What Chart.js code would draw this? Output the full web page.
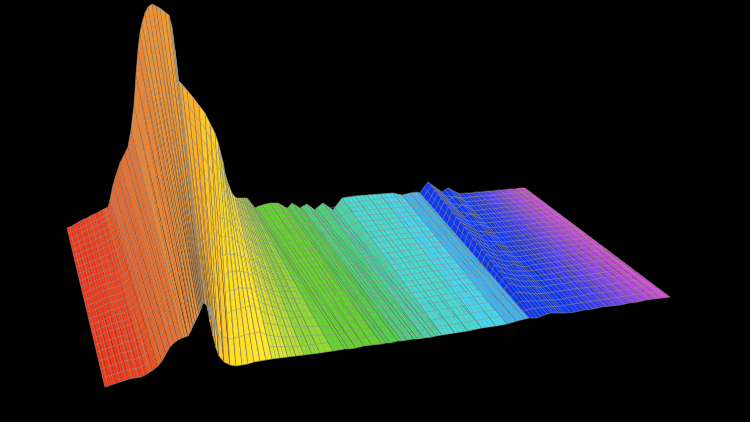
<!DOCTYPE html>
<html><head><meta charset="utf-8">
<style>html,body{margin:0;padding:0;background:#000;width:750px;height:422px;overflow:hidden}canvas{display:block;background:#000}</style>
<script src="https://cdn.jsdelivr.net/npm/chart.js@4"></script>
</head><body><canvas id="c" width="750" height="422"></canvas>
<script>
const backX=[67,72,77,82,87,92,97,102,108,110,113,117,120,125,128,131,134,136,138,140,142,145,148,152,156,160,165,169,172,175,178,182,187,193,199,205,210,215,218,220,223,225,228,232,235,237,239,241,243,245,247,251,255,256.5,262,270,278,287,288.5,292,300,301.5,307,315,316.5,323,333,334.5,342,355,367,380,393,402,410,417,420,424,428,435,442,448,454,460,465.5,471,476.5,482,487.5,493,498.5,504,509.5,515,520,525];
const frontX=[105,111,117,123,129,135,141,147,153,158,162,166,170,174,178,182,185,188,191,193,195,197,199,200,201,202,202,203,203,204,205,207,210,213,216,219,224,230,236,242,248,254,260,266,272,280,288,296,304,312,320,333,345,349,356,364,372,382,386,390,398,402,407,414,418,424,432,436,442,455,468,482,496,507,517,525,529,533,537,544,551,556,561,566,575,584,593,602,611,620,629,638,646,654,662,670];
const surfaceY=[
[228,239,250,261,274,287,300,312,325,338,352,369,387],[226,237,248,259,272,285,298,310,323,336,350,367,385],[223,234,245,257,269,282,295,308,321,333,348,365,383],[220,231,243,254,267,280,292,305,318,331,346,363,381],[218,229,241,252,265,278,290,303,316,329,344,361,379],[215,226,238,249,262,275,288,301,314,327,342,360,378],[213,224,236,247,261,274,287,300,313,326,341,359,377],[210,221,233,244,258,271,284,297,310,323,338,356,374],[207,218,230,241,254,267,280,293,306,319,334,352,370],[200,212,223,235,248,261,275,288,301,315,329,348,366],
[185,197,210,222,236,250,264,278,292,306,322,342,361],[172,185,197,210,225,239,254,268,283,298,314,334,354],[163,176,189,202,216,231,246,261,275,290,306,327,347],[153,166,180,193,208,223,239,254,269,284,301,322,343],[147,161,174,188,203,218,234,249,265,280,298,319,340],[130,145,159,174,190,207,224,240,257,274,292,315,338],[105,121,137,154,172,191,209,228,247,265,286,311,337],[75,93,112,130,151,172,192,213,234,255,279,307,336],[50,70,89,109,131,154,176,199,221,244,269,300,331],[33,54,74,95,118,141,165,188,212,235,262,294,326],
[23,44,65,86,110,134,158,181,205,229,256,289,322],[13,34,56,77,101,126,150,175,199,223,251,284,318],[7,28,50,71,96,121,145,170,194,219,246,280,314],[4,25,47,68,93,118,142,167,191,216,243,277,311],[6,27,48,70,94,118,142,167,191,215,242,276,309],[8,29,50,71,95,119,143,166,190,214,241,274,307],[12,33,53,74,97,120,144,167,191,214,241,273,305],[15,35,55,76,99,122,145,168,191,214,240,272,304],[27,46,66,85,107,129,151,173,195,217,242,273,303],[50,68,85,103,123,144,164,184,204,225,247,275,303],
[80,96,111,127,145,163,181,199,217,235,255,279,304],[84,100,115,131,148,166,184,202,219,237,257,282,306],[90,106,122,139,157,176,194,213,232,250,271,296,322],[97,114,130,147,166,185,205,224,243,262,283,310,336],[105,122,139,156,175,195,214,234,253,273,295,321,348],[113,130,147,164,183,203,222,242,261,281,303,329,356],[123,140,156,173,192,211,231,250,269,288,309,336,362],[133,149,165,182,200,219,237,256,275,293,314,339,365],[142,156,170,184,200,218,236,254,272,290,311,338,366],[150,162,175,188,203,220,237,255,272,290,310,337,365],
[162,172,183,194,208,222,238,254,271,288,308,335,364],[173,181,190,200,212,226,240,255,271,288,307,334,362],[183,189,196,205,216,228,242,256,272,288,306,333,361],[193,197,203,211,221,232,245,258,273,288,306,332,360],[197,203,210,218,228,240,252,265,279,294,311,335,359],[198,206,214,223,234,246,258,271,284,298,314,336,358],[198,208,218,229,240,252,264,276,288,301,316,337,357],[198,209,220,232,244,255,267,279,291,303,318,337,356],[198,209,220,232,244,256,268,280,292,304,318,337,355],[198,209,220,231,243,255,267,279,291,303,317,336,354],
[198,209,220,231,243,255,267,279,291,303,317,335,353],[203,213,224,234,246,258,269,281,293,305,318,335,351],[208,218,228,238,249,260,271,283,294,305,318,334,349],[207,217,227,237,248,259,270,282,293,305,318,334,349],[205,215,225,235,246,258,269,281,292,304,317,332,348],[203,213,223,233,244,256,267,279,290,302,315,330,346],[203,213,223,233,244,256,267,278,290,301,314,329,345],[208,218,228,238,249,259,270,281,291,302,314,329,344],[207,217,227,237,248,258,269,280,290,301,313,328,343],[203,213,223,233,244,255,266,277,288,300,312,327,343],
[208,218,228,238,248,258,269,279,290,300,312,326,341],[207,217,227,237,247,258,268,279,289,300,312,326,341],[204,214,224,233,243,254,265,276,287,298,310,325,340],[210,219,228,237,247,258,268,278,289,299,311,325,339],[208,217,226,236,246,256,267,277,288,298,310,325,339],[203,212,222,231,242,253,264,274,285,296,308,323,338],[210,219,228,237,247,257,267,277,287,298,309,323,337],[208,217,226,235,245,255,266,276,286,296,308,322,336],[198,208,217,227,238,249,260,271,282,293,305,320,335],[196,206,215,225,236,247,258,269,280,291,303,318,333],
[195,205,214,224,234,245,256,267,278,289,301,316,331],[194,203,213,222,233,244,254,265,276,286,298,313,328],[193,202,212,221,232,242,253,264,274,285,297,311,326],[195,204,213,222,232,243,253,263,274,284,296,310,324],[193,202,211,220,230,240,250,261,271,281,293,307,321],[192,201,210,219,229,239,249,259,269,280,291,305,319],[193,202,210,219,229,239,249,259,269,279,290,304,318],[187,196,204,213,223,233,243,254,264,274,286,302,318],[182,190,198,207,217,227,238,249,260,271,283,301,318],[187,195,203,212,222,232,243,253,264,274,286,301,315],
[192,200,208,217,226,236,246,256,266,276,287,301,313],[188,196,205,214,224,234,244,254,264,275,286,300,313],[191,199,208,217,226,236,246,256,266,276,287,300,313],[194,202,211,219,228,238,247,257,267,276,287,300,313],[193,201,210,218,227,237,246,256,265,275,285,299,312],[193,201,209,218,227,236,246,255,264,274,284,297,310],[192,200,209,217,226,236,245,254,263,273,283,296,309],[192,200,208,216,225,234,243,253,262,271,281,294,307],[191,199,207,216,225,234,243,252,261,271,281,293,306],[191,199,207,215,224,233,242,251,260,270,280,292,305],
[190,198,206,215,223,232,241,250,259,268,278,291,303],[190,198,206,214,222,231,240,249,258,267,277,290,302],[189,197,205,213,222,231,240,248,257,266,276,289,300],[189,197,204,212,221,230,239,247,256,265,275,287,299],[188,196,204,212,220,229,238,246,255,264,274,286,298],[188,196,203,211,220,228,237,246,254,263,273,285,297]
];
const bandColors=[
'#fb3010','#fb3010','#fb3010','#fb3010','#f83a14','#f83a14','#f83a14','#f24e1c','#f24e1c','#e8662c','#e8662c','#e8662c','#ea7030','#ea7030','#ea7030','#ee8430','#ee8430','#ee8430','#ee8430','#ee9234','#ee9234','#ee9234','#ee9234','#ee9234','#ee9234','#f49a28','#f49a28','#f49a28','#f69c28','#f8a028','#f8a028',
'#fcae24','#fcae24','#fcae24','#ffc824','#ffc824','#ffc824','#ffdf24','#ffdf24','#ffdf24','#ffdf24','#ffe62c','#ffe62c','#ffe62c','#dce62c','#dce62c','#b8e030','#b8e030','#8edc30','#8edc30','#8edc30','#62d42c','#62d42c','#62d42c','#62d42c','#62d42c','#62d42c','#4ed444','#4ed444','#4ed444','#4ed444',
'#48d47c','#48d47c','#48d47c','#48d47c','#48d4a8','#48d4a8','#48d4a8','#44dcd4','#44dcd4','#44dcd4','#44d8f0','#44d8f0','#40b4f0','#40b4f0','#40b4f0','#0c38f6','#0c38f6','#0c38f6','#0c38f6','#0c38f6','#0c38f6','#0c38f6','#0c38f6',
'#1c38f4','#2a3af2','#383cf0','#483eee','#5e40ec','#7442ea','#8a44e8','#a044e4','#b644e0','#c846de','#d64adc'];
const sideWallX=[207,212,223,218];
const sideWallY=[306,307,350,353];
// further depth lines of the mesh: back end x, back end y, front end x, front end y
const lineBackX=[69.5,74.5,79.5,84.5,89.5,94.5,99.5,105,236,238,240,242,244,246,249,253,259,266,274,282,290,296,304,311,320,328,338,346.3,350.7,359,363,371,376,384,389,397,406,413.5,431.5,438.5,445,451,457,463,468,474,479,485,490,496,501,507,512,517.5,522.5];
const lineBackY=[227,224.5,221.5,219,216.5,214,211.5,208.5,197.5,198,198,198,198,198,200,205,206,204,203,205,205,205,206,207,205,206,203,197,197,196,195.5,195,194.5,194,193.5,194,194,193,184.5,189.5,190,189.5,192.5,194,193,193,192.5,192,191.5,191,190.5,190,189.5,189,188.5];
const lineFrontX=[108,114,120,126,132,138,144,150,276,284,292,300,308,316,326,339,352,360,368,377,388,394,404,410,421,428,439,446.3,450.7,459,464,473,477,486,491,500,512,521,540.5,547.5,553.5,558.5,563.5,570.5,579.5,588.5,597.5,606.5,615.5,624.5,633.5,642,650,658,666];
const lineFrontY=[386,384,382,380,378.5,377.5,375.5,372,358.5,357.5,356.5,355.5,354.5,353.5,352,350,348.5,347,345.5,344.5,343,342,340.5,339.5,338.5,337.5,335.5,334.3,333.7,332,331.5,330,329,327.5,327,325,322.5,320,316.5,314,313,313,313,312.5,311,309.5,308,306.5,305.5,304,302.5,301,299.5,298.5,297.5];
// further cross lines of the mesh, read at a few bands
const crossBandsLeft=[0,2,4,6,8,10,12,14,16];
const crossLeft=[
[233,245,256,267,281,294,306,319,332,345,361,378],[229,240,251,263,276,289,302,315,327,341,357,374],[224,235,247,259,272,284,297,310,323,337,353,370],[219,230,242,254,268,281,294,307,320,334,350,368],[213,224,236,248,261,274,287,300,313,327,343,361],[191,204,216,229,243,257,271,285,299,314,332,352],[170,183,196,209,224,239,254,268,283,298,317,337],[154,168,181,196,211,226,242,257,273,289,309,330],[113,129,146,163,182,200,219,238,256,276,299,324]
];
const crossBandsRight=[44,48,52,56,60,64,68,70,72,74,76,78,80,83,86,89,92,95];
const crossRight=[
[200,206,214,223,234,246,258,272,286,302,323,347],[203,214,226,238,250,262,274,286,298,311,327,346],[213,223,233,243,254,265,277,288,299,311,326,341],[208,218,228,238,250,261,272,284,295,307,321,337],[213,223,233,243,253,263,274,284,295,306,319,333],[212,221,231,241,251,261,272,282,293,304,317,332],[203,212,222,232,243,254,265,276,287,299,312,327],[200,209,219,229,239,250,261,272,283,295,308,323],[197,207,216,226,237,247,258,269,279,291,304,318],[197,206,215,225,235,245,255,266,276,287,300,314],[197,206,214,224,234,244,254,264,274,284,297,311],[186,194,202,212,222,232,243,254,265,277,292,309],[196,204,212,221,231,241,251,261,271,281,294,307],[198,206,215,223,233,242,252,262,271,281,293,306],[196,204,213,221,231,240,249,258,268,278,289,302],[195,203,211,219,228,237,246,255,265,275,286,298],[193,201,209,217,226,235,244,252,261,271,282,294],[192,199,207,215,224,232,241,250,258,268,279,291]
];
const meshColor='rgba(150,145,140,0.72)';
const meshWidth=0.8;
const wallColor='#a09898';

function xOnBand(c,y){
  const col=surfaceY[c],top=col[0],bot=col[col.length-1];
  return backX[c]+(frontX[c]-backX[c])*(y-top)/(bot-top);
}
function pointAt(c,r){return {x:xOnBand(c,surfaceY[c][r]),y:surfaceY[c][r]};}
const rows=surfaceY[0].length,cols=surfaceY.length;
const base={showLine:true,pointRadius:0,pointHoverRadius:0,tension:0.001,capBezierPoints:false};
const meshLine={...base,borderColor:meshColor,borderWidth:meshWidth,fill:false};
const datasets=[];
// mesh lines first so that they lie on top
for(let c=0;c<cols;c++){
  const data=[];for(let r=0;r<rows;r++)data.push(pointAt(c,r));
  datasets.push({...meshLine,data});
}
for(let r=0;r<rows;r++){
  const data=[];for(let c=0;c<cols;c++)data.push(pointAt(c,r));
  datasets.push({...meshLine,data});
}
lineBackX.forEach((x,i)=>datasets.push({...meshLine,data:[{x,y:lineBackY[i]},{x:lineFrontX[i],y:lineFrontY[i]}]}));
function addCross(bands,table){
  for(let k=0;k<table[0].length;k++){
    datasets.push({...meshLine,data:bands.map((c,i)=>({x:xOnBand(c,table[i][k]),y:table[i][k]}))});
  }
}
addCross(crossBandsLeft,crossLeft);
addCross(crossBandsRight,crossRight);
datasets.push({...base,data:sideWallX.map((x,i)=>({x,y:sideWallY[i]})).concat([{x:sideWallX[2],y:sideWallY[2]}]),backgroundColor:wallColor,borderWidth:0,fill:'shape'});
for(let c=cols-2;c>=0;c--){
  const data=[pointAt(c,0)];
  for(let r=0;r<rows;r++)data.push(pointAt(c+1,r));
  for(let r=rows-1;r>=0;r--)data.push(pointAt(c,r));
  data.push(pointAt(c+1,rows-1));
  datasets.push({...base,data,backgroundColor:bandColors[c],borderColor:bandColors[c],borderWidth:0,fill:'shape'});
}
new Chart(document.getElementById('c'),{
  type:'scatter',
  data:{datasets},
  options:{
    responsive:false,animation:false,devicePixelRatio:1,
    layout:{padding:0},
    plugins:{legend:{display:false},tooltip:{enabled:false},title:{display:false}},
    events:[],
    scales:{
      x:{type:'linear',display:false,min:0,max:750},
      y:{type:'linear',display:false,min:0,max:422,reverse:true}
    }
  }
});
</script></body></html>
